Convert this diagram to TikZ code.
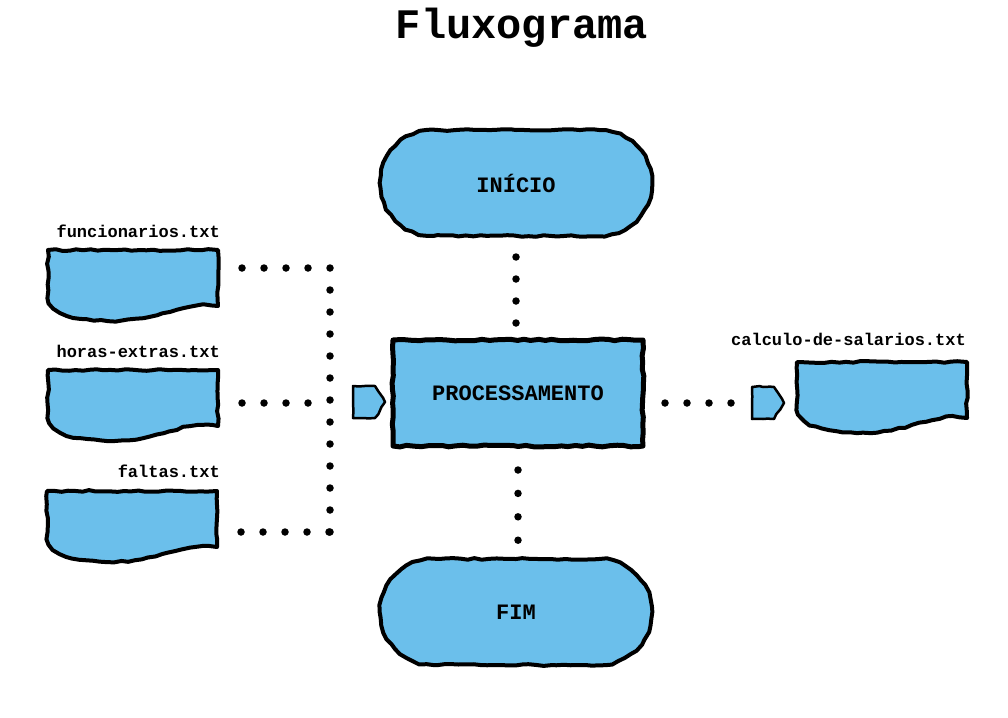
\documentclass[tikz,border=0pt]{standalone}
\usepackage{fontspec}
\setmonofont{Liberation Mono}
\usetikzlibrary{calc,shapes.symbols,shapes.misc,decorations.pathmorphing}
\definecolor{skyfill}{RGB}{107,191,235}
\newcommand\titlefont{\fontsize{42}{48}\selectfont\ttfamily\bfseries}
\newcommand\boxfont{\fontsize{22}{26}\selectfont\ttfamily\bfseries}
\newcommand\filefont{\fontsize{17}{20}\selectfont\ttfamily\bfseries}
\newcommand\docshape[1]{%
  \begin{scope}[shift={(#1.north west)}]
    \path[sketch] (0,0) -- (170,0) -- (170,56)
      .. controls (135,50) and (110,72) .. (60,71)
      .. controls (22,70) and (4,62) .. (0,48) -- cycle;
  \end{scope}}
\begin{document}
\pgfmathsetseed{11}
\begin{tikzpicture}[x=1pt,y=-1pt,
  sketch/.style={draw=black, line width=4pt, fill=skyfill, line join=round,
    outer sep=0pt, decorate,
    decoration={random steps, segment length=7pt, amplitude=0.9pt}},
  terminal/.style={sketch, shape=rounded rectangle, minimum width=272pt,
    minimum height=106pt, inner sep=0pt, font=\boxfont},
  process/.style={sketch, line width=5pt, minimum width=250pt,
    minimum height=106pt, inner sep=0pt, font=\boxfont},
  tagbox/.style={sketch, line width=2.5pt, shape=signal, signal to=east,
    signal pointer angle=116, minimum width=32pt, minimum height=32pt,
    inner sep=0pt},
  docname/.style={minimum width=170pt, minimum height=60pt, inner sep=0pt,
    outer sep=0pt},
  filelabel/.style={font=\filefont, inner sep=0pt, anchor=base east},
  dotline/.style={line width=7.5pt, line cap=round, dash pattern=on 0pt off #1},
  dotline/.default=22pt]
\fill[white] (0,0) rectangle (1008,717);
\useasboundingbox (0,0) rectangle (1008,717);

\node[font=\titlefont, inner sep=0pt, anchor=base] (title) at (522,38) {Fluxograma};

% terminals and process
\node[terminal] (ini) at (516,183) {INÍCIO};
\node[process] (proc) at (518,393) {PROCESSAMENTO};
\node[terminal] (fim) at (516,612) {FIM};

% documents
\node[docname] (doc1) at (133,280) {};
\node[docname] (doc2) at (133,400) {};
\node[docname] (doc3) at (132,521) {};
\node[docname] (docout) at (882,392) {};
\docshape{doc1}
\docshape{doc2}
\docshape{doc3}
\docshape{docout}

\node[filelabel] (lab1) at (220,237) {funcionarios.txt};
\node[filelabel] (lab2) at (220,357) {horas-extras.txt};
\node[filelabel] (lab3) at (220,477) {faltas.txt};
\node[filelabel] (lab4) at (966,345) {calculo-de-salarios.txt};

% arrow tags
\node[tagbox] (tag1) at (364,402) {};
\node[tagbox] (tag2) at (763,403) {};

% connectors
\coordinate (j1) at (330,268);
\coordinate (j2) at (330,403);
\coordinate (j3) at (330,532);
\draw[dotline] ($(doc1.east|-j1)+(24,0)$) -- (j1) -- (j3);
\draw[dotline] ($(doc2.east|-j2)+(24,0)$) -- (j2);
\draw[dotline] ($(doc3.east|-j3)+(24,0)$) -- (j3);

\draw[dotline] ($(ini.south)+(0,21)$) -- ($(proc.north -| ini.south)+(0,-16.5)$);
\draw[dotline=23.4pt] ($(proc.south)+(0,24)$) -- ($(fim.north -| proc.south)+(0,-18)$);
\draw[dotline] ($(proc.east|-tag2)+(22,0)$) -- ($(tag2.west)+(-15.5,0)$);
\end{tikzpicture}
\end{document}
